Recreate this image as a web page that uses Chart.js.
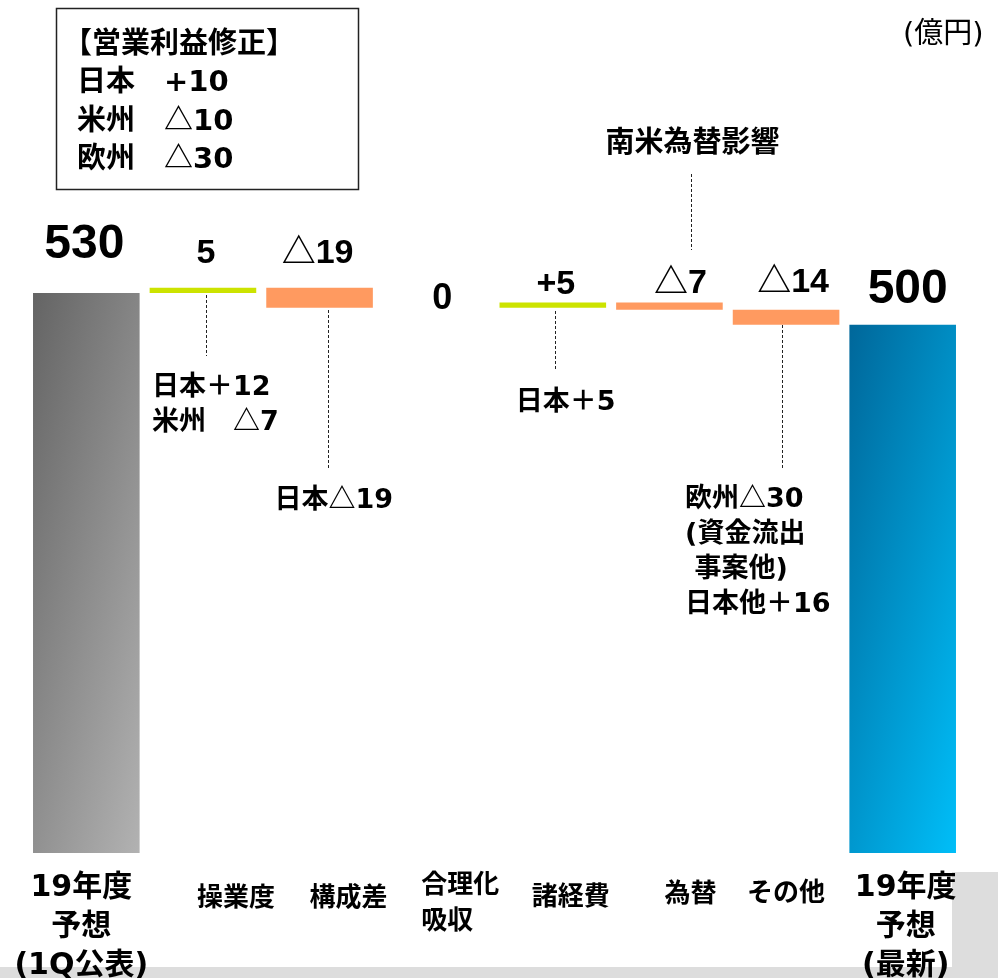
<!DOCTYPE html>
<html>
<head>
<meta charset="utf-8">
<script src="https://cdn.jsdelivr.net/npm/chart.js@4.4.1/dist/chart.umd.min.js"></script>
<style>
  html, body { margin: 0; padding: 0; background: #fff; }
</style>
</head>
<body>
<canvas id="waterfall" width="998" height="978"></canvas>
<script>
// --- data ---
var categories = [
    ['19年度', '予想', '(1Q公表)'],
    ['操業度'],
    ['構成差'],
    ['合理化', '吸収'],
    ['諸経費'],
    ['為替'],
    ['その他'],
    ['19年度', '予想', '(最新)']
];
var changes     = [530, 5, -19, 0, 5, -7, -14, 500];
var valueLabels = ['530', '5', '△19', '0', '+5', '△7', '△14', '500'];
var unitLabel   = '(億円)';
var revisionTitle = '【営業利益修正】';
var revisionLines = ['日本　+10', '米州　△10', '欧州　△30'];
var notes = [
    [],
    ['日本＋12', '米州　△7'],
    ['日本△19'],
    [],
    ['日本＋5'],
    ['南米為替影響'],
    ['欧州△30', '(資金流出', ' 事案他)', '日本他＋16'],
    []
];

// --- layout (pixels), kept apart from the data ---
var valueOffsets = [[-2, -48], [3, -34], [-2, -34], [6, -9], [3, -18], [11, -19], [7, -27], [5, -35]];
var valueFonts = [48, 34, 34, 36, 34, 34, 34, 48];
var catLayout = [
    {dx: -5, y: 885, lh: 39, size: 30, align: 'center'},
    {dx: 33, y: 897, lh: 37, size: 26, align: 'center'},
    {dx: 29, y: 897, lh: 37, size: 26, align: 'center'},
    {dx: -15, y: 884, lh: 36, size: 26, align: 'left'},
    {dx: 18, y: 896, lh: 37, size: 26, align: 'center'},
    {dx: 21, y: 893, lh: 37, size: 26, align: 'center'},
    {dx: 0, y: 892, lh: 37, size: 26, align: 'center'},
    {dx: 3, y: 885, lh: 39, size: 30, align: 'center'}
];
var noteLayout = [
    null,
    {dx: -51, y: 385, lh: 35, size: 27, align: 'left', lx: 3, ly: [295, 356]},
    {dx: -45, y: 498, lh: 35, size: 27, align: 'left', lx: 8, ly: [310, 468]},
    null,
    {dx: -37, y: 400, lh: 35, size: 27, align: 'left', lx: 2, ly: [311, 371]},
    {dx: 23, y: 142, lh: 35, size: 29, align: 'center', lx: 22, ly: [174, 250]},
    {dx: -101, y: 497, lh: 35, size: 27, align: 'left', lx: -4, ly: [325, 469]},
    null
];

var LATIN = '"Liberation Sans", "Noto Sans CJK JP", sans-serif';

// floating bars for the waterfall
var bars = [];
var level = 0;
changes.forEach(function (v, i) {
    if (i === 0 || i === changes.length - 1) {
        bars.push([0, v]);
        level = v;
    } else {
        bars.push([level, level + v]);
        level += v;
    }
});

function barFill(ctx) {
    var i = ctx.dataIndex;
    var v = changes[i];
    if (i > 0 && i < changes.length - 1) {
        if (v === 0) return 'rgba(0,0,0,0)';
        return v > 0 ? '#CCE300' : '#FF9A60';
    }
    var chart = ctx.chart;
    if (!chart.chartArea) return i === 0 ? '#888888' : '#0090D0';
    var xs = chart.scales.x, ys = chart.scales.y;
    var half = xs.width / changes.length * 0.914 / 2;
    var xl = xs.getPixelForValue(i) - half;
    var yt = ys.getPixelForValue(bars[i][1]);
    var h = ys.getPixelForValue(0) - yt;
    var L = half * 2 * 0.969 + h * 0.247;
    var g = chart.ctx.createLinearGradient(xl, yt, xl + L * 0.969, yt + L * 0.247);
    if (i === 0) {
        g.addColorStop(0, '#646464');
        g.addColorStop(1, '#b2b2b2');
    } else {
        g.addColorStop(0, '#00679A');
        g.addColorStop(1, '#00BEF8');
    }
    return g;
}

// Latin runs in DejaVu (Verdana-like, as Meiryo), the rest in Noto CJK
function drawMixed(c, text, x, y, size, align, weight) {
    weight = weight || 'bold';
    var runs = [];
    for (var k = 0; k < text.length; k++) {
        var ch = text[k];
        var latin = /[\x20-\x7E]/.test(ch);
        if (runs.length && runs[runs.length - 1].latin === latin) runs[runs.length - 1].t += ch;
        else runs.push({t: ch, latin: latin});
    }
    var total = 0;
    runs.forEach(function (r) {
        r.font = weight + ' ' + size + 'px ' + (r.latin ? '"DejaVu Sans"' : '"Noto Sans CJK JP"');
        c.font = r.font;
        r.w = c.measureText(r.t).width;
        total += r.w;
    });
    var sx = align === 'center' ? x - total / 2 : x;
    c.textAlign = 'left';
    c.textBaseline = 'alphabetic';
    c.fillStyle = '#000';
    runs.forEach(function (r) {
        c.font = r.font;
        c.fillText(r.t, sx, y + size * 0.36);
        sx += r.w;
    });
}

function drawBlock(c, lines, x, y, lh, size, align, weight) {
    lines.forEach(function (t, k) {
        drawMixed(c, t, x, y + k * lh, size, align, weight);
    });
}

var slideBits = {
    id: 'slideBits',
    beforeDraw: function (chart) {
        var c = chart.ctx;
        c.save();
        c.fillStyle = '#ffffff';
        c.fillRect(0, 0, chart.width, chart.height);
        c.fillStyle = '#dddddd';
        c.fillRect(0, 967, chart.width, 11);
        c.fillRect(952, 872, 46, 106);
        c.restore();
    },
    afterDatasetsDraw: function (chart) {
        var c = chart.ctx;
        var xs = chart.scales.x, ys = chart.scales.y;
        c.save();

        // value labels
        c.fillStyle = '#000';
        c.textAlign = 'center';
        c.textBaseline = 'middle';
        bars.forEach(function (b, i) {
            var x = xs.getPixelForValue(i) + valueOffsets[i][0];
            var y = ys.getPixelForValue(Math.max(b[0], b[1])) + valueOffsets[i][1];
            c.font = 'bold ' + valueFonts[i] + 'px ' + LATIN;
            c.fillText(valueLabels[i], x, y);
        });

        // category labels
        categories.forEach(function (lines, i) {
            var L = catLayout[i];
            drawBlock(c, lines, xs.getPixelForValue(i) + L.dx, L.y, L.lh, L.size, L.align);
        });

        // notes with dashed leaders
        c.strokeStyle = '#222';
        c.lineWidth = 1;
        notes.forEach(function (lines, i) {
            var L = noteLayout[i];
            if (!L) return;
            var cx = xs.getPixelForValue(i);
            c.setLineDash([3, 2]);
            c.beginPath();
            c.moveTo(Math.round(cx + L.lx) + 0.5, L.ly[0]);
            c.lineTo(Math.round(cx + L.lx) + 0.5, L.ly[1]);
            c.stroke();
            c.setLineDash([]);
            drawBlock(c, lines, cx + L.dx, L.y, L.lh, L.size, L.align);
        });

        // revision box
        c.strokeStyle = '#222';
        c.lineWidth = 1.5;
        c.strokeRect(56.5, 8.5, 302, 181);
        drawMixed(c, revisionTitle, 63, 43, 29, 'left');
        drawBlock(c, revisionLines, 77, 81, 38.5, 29, 'left');

        // unit
        drawMixed(c, unitLabel, 903, 33, 29, 'left', 'normal');

        c.restore();
    }
};

new Chart(document.getElementById('waterfall'), {
    type: 'bar',
    data: {
        labels: categories,
        datasets: [{
            data: bars,
            backgroundColor: barFill,
            borderWidth: 0,
            barPercentage: 0.914,
            categoryPercentage: 1.0
        }]
    },
    options: {
        responsive: false,
        devicePixelRatio: 1,
        animation: false,
        layout: { padding: { left: 28, right: 37, top: 219, bottom: 125 } },
        scales: {
            x: { display: false },
            y: { display: false, min: 0, max: 600 }
        },
        plugins: {
            legend: { display: false },
            tooltip: { enabled: false }
        }
    },
    plugins: [slideBits]
});
</script>
</body>
</html>
